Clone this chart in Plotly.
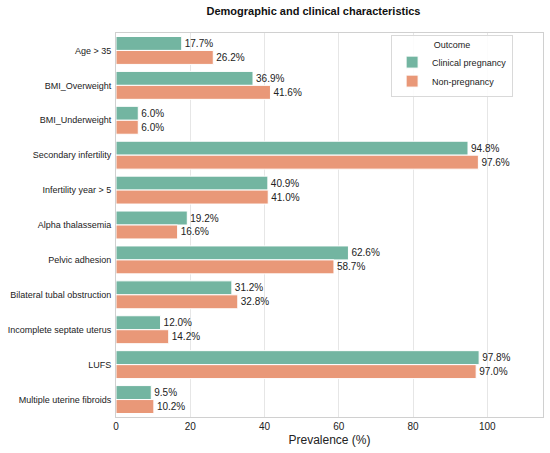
import plotly.graph_objects as go

# Data
categories = [
    "Age > 35", "BMI_Overweight", "BMI_Underweight", "Secondary infertility",
    "Infertility year > 5", "Alpha thalassemia", "Pelvic adhesion",
    "Bilateral tubal obstruction", "Incomplete septate uterus", "LUFS",
    "Multiple uterine fibroids",
]
clinical_pregnancy = [17.7, 36.9, 6.0, 94.8, 40.9, 19.2, 62.6, 31.2, 12.0, 97.8, 9.5]
non_pregnancy = [26.2, 41.6, 6.0, 97.6, 41.0, 16.6, 58.7, 32.8, 14.2, 97.0, 10.2]
x_ticks = [0, 20, 40, 60, 80, 100]

FONT = "Liberation Sans, Arial, sans-serif"

fig = go.Figure()
for name, vals, color in [
    ("Clinical pregnancy", clinical_pregnancy, "#73b5a1"),
    ("Non-pregnancy", non_pregnancy, "#e99878"),
]:
    fig.add_trace(go.Bar(
        y=categories, x=vals, name=name, orientation="h",
        marker=dict(color=color, line=dict(color="white", width=1)),
        text=[f"{v:.1f}%" for v in vals],
        textposition="outside",
        textfont=dict(size=10, color="#222222", family=FONT),
        cliponaxis=False,
    ))

fig.update_layout(
    width=550, height=453,
    margin=dict(l=116, r=7, t=33, b=36),
    barmode="group", bargap=0.2, bargroupgap=0,
    plot_bgcolor="white", paper_bgcolor="white",
    font=dict(family=FONT, size=10, color="#222222"),
    title=dict(text="<b>Demographic and clinical characteristics</b>",
               x=0.57, xanchor="center", y=0.975, yanchor="middle",
               font=dict(size=11, color="#111111")),
    legend=dict(
        title=dict(text="Outcome", side="top center", font=dict(size=9)),
        x=0.93, xanchor="right", y=0.995, yanchor="top",
        bordercolor="#d9d9d9", borderwidth=1, bgcolor="rgba(255,255,255,0.85)",
        font=dict(size=9), traceorder="normal", itemwidth=30,
        tracegroupgap=0,
    ),
    xaxis=dict(
        range=[0, 115], tickvals=x_ticks, showgrid=True, gridcolor="#e6e6e6",
        zeroline=False, showline=True, linecolor="#d0d0d0", mirror=True,
        ticks="", tickfont=dict(size=10), automargin=False,
        title=dict(text="Prevalence (%)", font=dict(size=12), standoff=4),
    ),
    yaxis=dict(
        autorange="reversed", showgrid=False, showline=True,
        linecolor="#d0d0d0", mirror=True, ticks="", ticklabelstandoff=2,
        tickfont=dict(size=9), automargin=False,
    ),
)

# remove the default page margin so the figure sits at the window corner
fig.write_html("out.html", config={"displayModeBar": False},
               post_script="document.body.style.margin='0px';")
